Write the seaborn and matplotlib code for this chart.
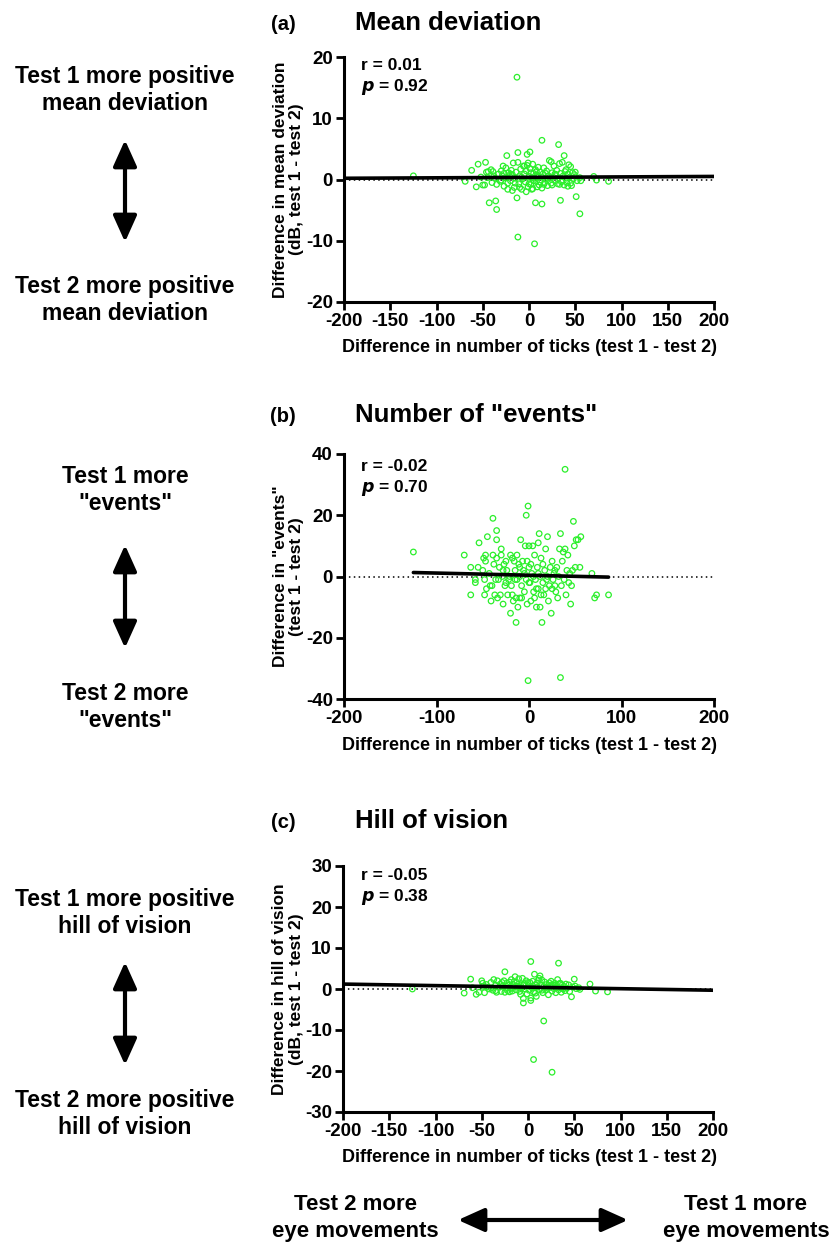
import numpy as np
import pandas as pd
import matplotlib
matplotlib.use("Agg")
import matplotlib.pyplot as plt
from matplotlib.patches import FancyArrowPatch
import seaborn as sns

# ---------------- data ----------------
md_x = [-125, -69, -62, -57, -55, -52, -48, -47, -46, -45, -43, -41, -40, -39, -37, -36, -35, -35, -33, -31,
        -30, -29, -28, -27, -26, -25, -24, -23, -22, -21, -20, -19, -18, -17, -16, -15, -14, -13, -13, -12,
        -12, -12, -11, -10, -9, -8, -7, -6, -5, -4,
        -3, -2, -2, -1, 0, 1, 1, 2, 3, 4, 4, 5, 6, 6, 7, 7, 8, 9, 10, 11, 12, 13, 14, 14, 14, 15, 16, 17, 18, 19,
        20, 21, 22, 23, 24, 24, 25, 26, 27, 28, 29, 30, 31, 32, 32, 33, 34, 34, 35, 36,
        37, 38, 38, 39, 40, 41, 42, 43, 44, 45, 46, 47, 48, 49, 50, 51, 52, 55, 55, 56, 70, 73, 86,
        -30, -20, -15, -8, -5, 0, 2, 5, 10, 12, 18, 20, -38, -27, -18, -10, -3, 3, 8, 16,
        28, 33, 40, 45, -44, -50, -23, -1, 9, 25, 42]
md_y = [0.6, -0.3, 1.5, -1.2, 2.5, 0.4, -0.9, 2.8, 1.2, 0.3, -3.8, 1.6, -0.5, 1.3, 0.2, -3.5, -4.9, -0.8, 0.9, -0.3,
        1.4, 0.6, 2.2, -1.1, 0.3, 1.9, 3.9, -0.6, 1.1, 0.5, -0.2, 1.5, 0.8, 2.7, -1.3, 0.2, 1.2, 16.7, -3.0, 4.4,
        -9.4, 2.8, -0.7, 0.6, 1.7, -1.6, 0.1, 2.2, 0.9, -0.4,
        1.4, 4.1, 2.3, -1.2, 0.5, 4.5, 1.8, -0.8, 0.3, 2.5, -1.5, 1.0, -10.5, 0.2, -3.8, 1.6, -0.3, 0.7, 2.0, -0.9,
        1.2, 0.4, 6.4, -4.0, -1.4, 0.9, 1.9, -0.5, 0.1, 1.4, -1.0, 0.6, 3.1, 0.2, 2.9, -0.6, 1.1, 0.4, 2.2, -0.2,
        0.8, 1.5, -0.7, 5.7, 0.3, 2.6, -3.4, 1.0, -0.4, 2.8,
        0.6, 3.9, -0.9, 1.3, 0.2, -0.5, 0.9, 2.4, 0.4, 2.1, -1.0, 1.1, 0.1, 0.8, 1.2, -2.8, -0.2, -5.6, 0.3, -0.2,
        0.5, -0.1, -0.3,
        -0.1, 0.9, -0.6, 0.4, 2.2, -0.7, 1.1, -0.2, 0.4, -0.4, 1.0, 0.5, 0.6, 1.0, -1.8, -1.3, -2.0, -1.6, 1.3, -0.8,
        0.9, -0.8, 1.6, -0.6, 1.3, -0.9, -1.6, 2.7, -1.2, -0.9, -1.1]

ev_x = [-125, -70, -63, -63, -58, -58, -55, -54, -50, -49, -48, -48, -47, -47, -46, -45, -43, -42, -41, -40,
        -39, -39, -38, -37, -36, -35, -35, -35, -34, -33, -32, -31, -30, -30, -29, -28, -27, -26, -25, -24,
        -23, -22, -21, -20, -20, -19, -18, -17, -16, -15,
        -14, -14, -13, -13, -12, -11, -10, -10, -9, -8, -7, -6, -5, -4, -3, -3, -2, -1, -1, 0,
        0, 1, 2, 3, 4, 5, 6, 7, 8, 9, 10, 10, 11, 12, 12, 13, 14, 15, 16, 17,
        18, 19, 20, 21, 22, 23, 24, 25, 26, 27,
        28, 29, 30, 31, 32, 33, 34, 34, 35, 36, 37, 38, 39, 39, 40, 41, 42, 43, 44, 45,
        46, 47, 48, 49, 50, 51, 53, 55, 56, 68, 71, 73, 86,
        -15, -5, 0, 5, 10, 15, 20, 25, -25, -10, 2, 8, 18, -18, -8, 6, 28, -28, 13, -2]
ev_y = [8, 7, -6, 3, -1, -2, 3, 11, 2, 6, -1, -6, 7, 5, -4, 13, 1, -3, -8, -3,
        19, 7, 4, -6, -1, 15, 12, 6, -7, -1, 3, -6, 7, 9, 0, -9, 4, -3, 5, 2,
        -6, -1, 0, 7, -12, -3, 6, -8, 5, 2,
        -15, -7, 7, -1, -10, 4, 0, -7, 12, -3, 5, 2, -5, 10, 20, -1, -9, 23, -34, 10,
        3, -2, -8, 1, 10, -5, 7, -1, -10, 3, 11, -4, 14, 0, -10, 6, -15, 4, -6, 2,
        9, -1, 13, -8, -3, 3, -12, 5, -1, 1,
        2, -5, 3, -7, 0, 9, 14, -33, -3, 5, 8, -1, 35, 9, -6, 2, 7, -2, 1, -9,
        -3, 2, 18, 10, 3, 12, 12, 3, 13, 1, -7, -6, -6,
        -1, 1, -2, 0, 1, -2, 0, -4, -2, 3, 4, -4, -4, -6, -7, -7, -3, 2, -6, 5]

hv_x = [-125, -69, -62, -60, -56, -53, -50, -49, -48, -47, -45, -42, -40, -38, -37, -35, -34, -33, -31, -30,
        -29, -27, -26, -25, -24, -23, -22, -21, -20, -19, -18, -17, -16, -15, -14, -13, -12, -11, -10, -9,
        -8, -7, -6, -5, -5, -4, -3, -2, -1, 0,
        1, 2, 3, 3, 3, 4, 5, 6, 6, 7, 8, 9, 10, 11, 12, 13, 14, 15, 16, 17,
        17, 18, 19, 20, 21, 22, 23, 24, 25, 26, 26, 27, 28, 29, 30, 31, 32, 33, 33, 34,
        35, 36, 37, 38, 39, 40, 41, 42, 44, 45,
        47, 48, 50, 51, 52, 55, 56, 67, 73, 86,
        -40, -35, -28, -20, -15, -10, -5, 0, 5, 10, 15, 20, 25, 30, 35, -45, -8, 8, 12, -25]
hv_y = [0, -1, 2.4, 0.3, -1.3, -0.8, 2, 1.4, 0.6, -0.9, 1.1, 0, 1.6, -0.3, 2.3, 0.9, -0.8, 2.0, 0.4, 1.2,
        -0.6, 0.8, 2.0, 4.2, 0.2, 1.4, -0.4, 0.9, 1.7, 0.1, 2.3, -0.5, 1.1, 0.5, 3.0, -0.2, 1.6, 0.7, 2.5, -0.6,
        1.0, 0.3, 2.6, -3.4, -2.3, 1.3, 0.0, 2.0, -1.2, 0.8,
        -0.3, 1.6, 6.7, -2.8, -2.2, 0.4, 1.9, -17.2, -0.7, 3.6, 1.1, -1.8, 0.5, 2.1, -0.2, 3.2, 1.0, 2.2, -0.9, -7.8,
        0.6, 1.7, -0.3, 1.1, 0.2, -1.4, 1.5, 0.4, 1.9, -20.3, -0.5, 1.0, 0.1, 1.4, -0.9, 0.6, 2.3, 6.3, -0.2, 1.3,
        0.3, -0.8, 1.0, 0.0, 0.6, -0.4, 1.2, 0.2, 1.0, -0.6,
        -1.9, 0.5, 2.4, 0.7, 0.1, 0.3, -0.1, 1.2, -0.5, -0.7,
        0.2, -0.4, 1.6, -0.7, 1.8, 0.4, 1.0, 1.6, 0.2, 1.4, -0.3, 0.5, 1.0, 0.9, 1.4, 0.5, -1.3, -1.0, 2.6, -0.8]

# regression lines (endpoints)
md_fit_x = [-200, 200]
md_fit_y = [0.2, 0.5]
ev_fit_x = [-125, 86]
ev_fit_y = [1.3, -0.2]
hv_fit_x = [-200, 200]
hv_fit_y = [1.2, -0.3]

panel_letters = ["(a)", "(b)", "(c)"]
panel_titles = ["Mean deviation", 'Number of "events"', "Hill of vision"]
stats_r = ["r = 0.01", "r = -0.02", "r = -0.05"]
stats_p = ["0.92", "0.70", "0.38"]
y_labels = ["Difference in mean deviation\n(dB, test 1 - test 2)",
            'Difference in "events"\n(test 1 - test 2)',
            "Difference in hill of vision\n(dB, test 1 - test 2)"]
x_label = "Difference in number of ticks (test 1 - test 2)"
y_ticks = [[-20, -10, 0, 10, 20], [-40, -20, 0, 20, 40], [-30, -20, -10, 0, 10, 20, 30]]
x_ticks = [[-200, -150, -100, -50, 0, 50, 100, 150, 200], [-200, -100, 0, 100, 200],
           [-200, -150, -100, -50, 0, 50, 100, 150, 200]]
left_top = ["Test 1 more positive\nmean deviation", 'Test 1 more\n"events"', "Test 1 more positive\nhill of vision"]
left_bot = ["Test 2 more positive\nmean deviation", 'Test 2 more\n"events"', "Test 2 more positive\nhill of vision"]
bottom_left = "Test 2 more\neye movements"
bottom_right = "Test 1 more\neye movements"

# ---------------- style ----------------
sns.set_theme(style="ticks")
plt.rcParams["font.family"] = ["Liberation Sans", "DejaVu Sans"]
plt.rcParams["font.weight"] = "bold"
for k in ["text.color", "axes.labelcolor", "xtick.color", "ytick.color", "axes.edgecolor"]:
    plt.rcParams[k] = "black"

W, H = 833, 1245
fig = plt.figure(figsize=(W / 100, H / 100), dpi=100)
fig.patch.set_facecolor("white")

GREEN = "#2BEF2B"

def px(x, y):
    return x / W, 1 - y / H

# axes boxes in pixels: (left, top, right, bottom)
boxes = [(344, 57, 714, 302), (344, 454, 714, 699), (343, 866, 713, 1112)]
datasets = [(md_x, md_y, md_fit_x, md_fit_y), (ev_x, ev_y, ev_fit_x, ev_fit_y), (hv_x, hv_y, hv_fit_x, hv_fit_y)]
title_y = [25, 417, 823]
stat_y = [65, 466, 875]
xlabel_y = [347, 745, 1157]
left_top_y = [90, 490, 913]
arrow_y = [(140, 242), (545, 648), (962, 1065)]
left_bot_y = [300, 707, 1114]

for i in range(3):
    l, t, r, b = boxes[i]
    ax = fig.add_axes([l / W, 1 - b / H, (r - l) / W, (b - t) / H])
    xs, ys, fx, fy = datasets[i]
    df = pd.DataFrame({"x": xs, "y": ys})
    fit = pd.DataFrame({"x": fx, "y": fy})
    ax.axhline(0, color="black", lw=1.1, ls=(0, (1, 2.2)), zorder=1)
    sns.scatterplot(data=df, x="x", y="y", ax=ax, marker="o", s=16,
                    facecolor="none", edgecolor=GREEN, linewidth=0.9, zorder=2)
    sns.lineplot(data=fit, x="x", y="y", ax=ax, color="black", lw=2.6, zorder=3)
    ax.set_xlim(-200, 200)
    ax.set_ylim(y_ticks[i][0], y_ticks[i][-1])
    ax.set_xticks(x_ticks[i])
    ax.set_yticks(y_ticks[i])
    ax.set_xticklabels([str(v) for v in x_ticks[i]], fontsize=13.5, fontweight="bold")
    ax.set_yticklabels([str(v) for v in y_ticks[i]], fontsize=13.5, fontweight="bold")
    ax.tick_params(axis="both", width=2, length=6, color="black", labelcolor="black", pad=2)
    for s in ["top", "right"]:
        ax.spines[s].set_visible(False)
    for s in ["left", "bottom"]:
        ax.spines[s].set_linewidth(2.2)
        ax.spines[s].set_color("black")
    ax.set_xlabel("")
    ax.set_ylabel(y_labels[i], fontsize=12.5, fontweight="bold", labelpad=1, linespacing=1.15, color="black")
    fig.text(*px(283, title_y[i]), panel_letters[i], fontsize=14.5, fontweight="bold", ha="center", va="center")
    fig.text(*px(355, title_y[i] - 2), panel_titles[i], fontsize=18.5, fontweight="bold", ha="left", va="center")
    fig.text(*px(361, stat_y[i]), stats_r[i], fontsize=12.5, fontweight="bold", ha="left", va="center")
    fig.text(*px(361, stat_y[i] + 22), r"$\bf{\it{p}}$ = " + stats_p[i], fontsize=12.5,
             fontweight="bold", ha="left", va="center")
    fig.text(*px(529, xlabel_y[i]), x_label, fontsize=13, fontweight="bold", ha="center", va="center")
    # left annotations
    fig.text(*px(125, left_top_y[i]), left_top[i], fontsize=16.5, fontweight="bold", ha="center",
             va="center", linespacing=1.2)
    fig.text(*px(125, left_bot_y[i]), left_bot[i], fontsize=16.5, fontweight="bold", ha="center",
             va="center", linespacing=1.2)
    a0, a1 = arrow_y[i]
    arr = FancyArrowPatch(px(125, a0), px(125, a1), transform=fig.transFigure,
                          arrowstyle="<|-|>,head_length=1.0,head_width=0.45", mutation_scale=16,
                          lw=3, color="black", shrinkA=0, shrinkB=0)
    fig.patches.append(arr)

# bottom annotation
fig.text(*px(355, 1218), bottom_left, fontsize=16, fontweight="bold", ha="center", va="center",
         linespacing=1.35)
fig.text(*px(746, 1218), bottom_right, fontsize=16, fontweight="bold", ha="center", va="center",
         linespacing=1.35)
harr = FancyArrowPatch(px(458, 1220), px(628, 1220), transform=fig.transFigure,
                       arrowstyle="<|-|>,head_length=1.0,head_width=0.45", mutation_scale=16,
                       lw=3, color="black", shrinkA=0, shrinkB=0)
fig.patches.append(harr)

fig.savefig("out.png", dpi=100, facecolor="white")
